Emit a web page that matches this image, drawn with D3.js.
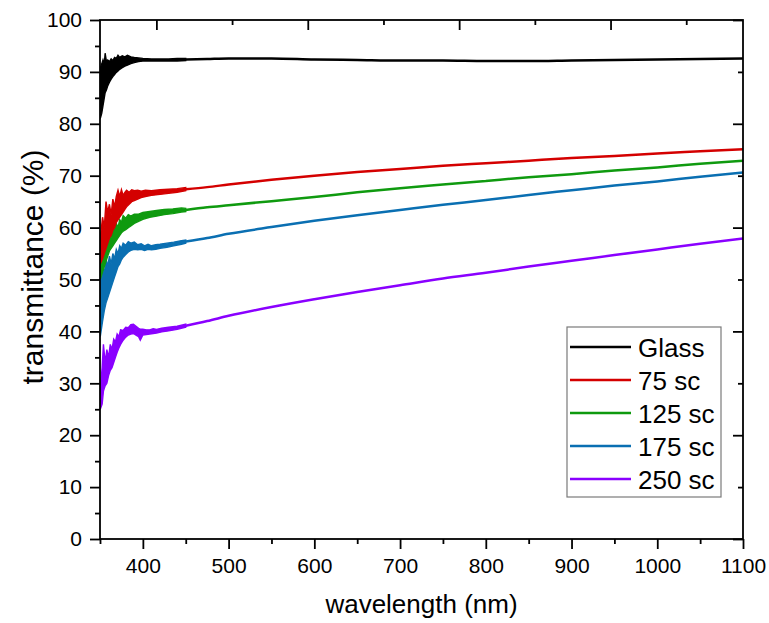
<!DOCTYPE html>
<html>
<head>
<meta charset="utf-8">
<script src="https://cdn.jsdelivr.net/npm/d3@7"></script>
<style>
  html, body { margin: 0; padding: 0; background: #fff; }
  svg { display: block; font-family: "Liberation Sans", Arial, sans-serif; }
</style>
</head>
<body>
<svg id="chart" width="769" height="623"></svg>
<script>
// Series names and colours
const seriesNames = ["Glass", "75 sc", "125 sc", "175 sc", "250 sc"];
const seriesColors = ["#000000", "#d40000", "#0f9a0f", "#0a6fb2", "#8a00ff"];

// Smooth part of each spectrum (nm, %)
const wavelengths = [450, 475, 500, 550, 600, 650, 700, 750, 800, 850, 900, 950, 1000, 1050, 1100];
const glass  = [92.4, 92.5, 92.6, 92.6, 92.4, 92.3, 92.2, 92.2, 92.1, 92.1, 92.2, 92.3, 92.4, 92.5, 92.6];
const sc75   = [67.4, 67.8, 68.3, 69.2, 70.0, 70.7, 71.3, 71.9, 72.4, 72.9, 73.4, 73.8, 74.3, 74.7, 75.1];
const sc125  = [63.4, 63.9, 64.3, 65.1, 65.9, 66.8, 67.6, 68.3, 69.0, 69.7, 70.3, 71.0, 71.6, 72.3, 72.9];
const sc175  = [57.3, 58.0, 58.8, 60.1, 61.3, 62.4, 63.4, 64.4, 65.3, 66.3, 67.2, 68.1, 68.9, 69.8, 70.6];
const sc250  = [41.1, 42.0, 43.0, 44.7, 46.2, 47.6, 48.9, 50.2, 51.3, 52.5, 53.6, 54.7, 55.8, 56.9, 57.9];

// Noisy UV region: [wavelength, lower envelope, upper envelope]
const glassNoise = [
  [350.3, 81.0, 90.8], [352, 82.0, 91.5], [353.5, 83.5, 92.3], [355, 85.0, 91.5], [356, 86.0, 93.6],
  [357.5, 86.5, 92.0], [359, 87.3, 92.3], [361, 88.0, 92.0], [363, 88.6, 92.5], [365, 89.1, 92.2],
  [367, 89.5, 92.8], [369, 89.9, 92.6], [371, 90.2, 93.2], [373, 90.5, 92.8], [376, 90.8, 93.1],
  [379, 91.1, 92.9], [382, 91.3, 93.2], [386, 91.6, 92.9], [390, 91.8, 92.8], [395, 92.0, 92.7],
  [400, 92.1, 92.6], [410, 92.1, 92.5], [420, 92.1, 92.5], [430, 92.1, 92.5], [440, 92.1, 92.6],
  [450, 92.2, 92.6]
];
const sc75Noise = [
  [350.3, 53.0, 58.0], [353, 54.0, 62.0], [355, 55.0, 60.0], [357, 56.0, 65.0], [359, 57.0, 63.0],
  [361, 58.0, 64.5], [363, 58.5, 62.5], [365, 59.5, 65.5], [367, 60.0, 64.0], [369, 61.0, 66.0],
  [371, 61.5, 67.2], [373, 62.0, 66.0], [375, 62.5, 67.3], [377, 63.0, 66.2], [379, 63.5, 66.8],
  [381, 64.0, 67.2], [384, 64.5, 66.8], [387, 65.0, 67.3], [390, 65.2, 67.1], [394, 65.5, 67.2],
  [398, 65.8, 67.0], [403, 66.0, 67.2], [410, 66.2, 67.1], [420, 66.4, 67.3], [430, 66.6, 67.4],
  [440, 66.8, 67.5], [450, 67.1, 67.7]
];
const sc125Noise = [
  [350.3, 50.0, 54.0], [353, 51.5, 56.0], [355, 52.5, 55.5], [357, 53.5, 57.5], [359, 54.5, 57.0],
  [361, 55.5, 58.5], [363, 56.0, 58.0], [365, 56.5, 60.0], [367, 57.0, 59.5], [369, 57.5, 60.8],
  [371, 58.0, 60.0], [373, 58.5, 61.5], [375, 59.0, 61.0], [377, 59.3, 62.3], [380, 59.6, 61.8],
  [383, 60.0, 62.5], [386, 60.3, 62.2], [390, 60.8, 62.6], [395, 61.2, 62.6], [400, 61.6, 62.9],
  [408, 62.0, 63.1], [416, 62.2, 63.3], [425, 62.5, 63.5], [435, 62.7, 63.6], [445, 63.0, 63.8],
  [450, 63.1, 63.7]
];
const sc175Noise = [
  [350.3, 39.0, 50.0], [353, 42.0, 53.0], [355, 44.0, 51.0], [357, 45.5, 54.0], [359, 46.5, 52.5],
  [361, 47.5, 54.5], [363, 48.5, 53.0], [365, 49.5, 55.0], [367, 50.5, 54.0], [369, 51.5, 55.8],
  [371, 52.5, 55.0], [373, 53.0, 56.5], [375, 53.8, 56.0], [377, 54.3, 57.0], [380, 54.8, 56.6],
  [383, 55.3, 57.3], [386, 55.6, 57.0], [390, 55.8, 57.2], [394, 55.7, 56.7], [398, 55.8, 56.9],
  [402, 55.6, 56.5], [406, 55.8, 56.8], [410, 55.7, 56.5], [415, 55.8, 56.7], [420, 56.0, 56.8],
  [428, 56.2, 57.0], [436, 56.5, 57.2], [445, 56.8, 57.5], [450, 57.0, 57.6]
];
const sc250Noise = [
  [350.3, 25.0, 29.0], [352.5, 26.0, 33.0], [354, 28.5, 37.5], [356, 29.5, 34.0], [358, 30.0, 36.5],
  [360, 31.5, 35.0], [362, 32.5, 37.5], [364, 33.0, 36.5], [366, 34.0, 38.5], [368, 35.0, 38.0],
  [370, 36.0, 39.5], [372, 36.8, 39.0], [374, 37.5, 40.3], [377, 38.3, 40.2], [380, 38.9, 40.8],
  [383, 39.3, 40.7], [386, 39.5, 41.3], [389, 39.6, 41.4], [392, 39.3, 41.0], [395, 39.0, 40.6],
  [397, 38.3, 40.4], [400, 39.3, 40.4], [404, 39.4, 40.3], [408, 39.5, 40.3], [412, 39.6, 40.5],
  [416, 39.7, 40.4], [422, 39.9, 40.6], [430, 40.1, 40.8], [440, 40.4, 41.0], [450, 40.8, 41.4]
];

// Axis ticks
const xTicks = [400, 500, 600, 700, 800, 900, 1000, 1100];
const xMinorTicks = [350, 450, 550, 650, 750, 850, 950, 1050];
const yTicks = [0, 10, 20, 30, 40, 50, 60, 70, 80, 90, 100];
const yMinorTicks = [5, 15, 25, 35, 45, 55, 65, 75, 85, 95];
const topTicks = [0, 1, 2, 3, 4, 5, 6, 7];
const topDomain = [-0.745, 7.75];
const rightTicks = [0, 10, 20, 30, 40, 50, 60, 70, 80, 90, 100];

const smoothSeries = [glass, sc75, sc125, sc175, sc250];
const noiseSeries = [glassNoise, sc75Noise, sc125Noise, sc175Noise, sc250Noise];

const svg = d3.select("#chart");
const plot = { left: 100, top: 20, right: 743, bottom: 539 };

const x = d3.scaleLinear().domain([350, 1100]).range([plot.left, plot.right]);
const y = d3.scaleLinear().domain([0, 100]).range([plot.bottom, plot.top]);
const xTop = d3.scaleLinear().domain(topDomain).range([plot.left, plot.right]);

svg.append("defs").append("clipPath").attr("id", "plotClip")
  .append("rect")
  .attr("x", plot.left).attr("y", plot.top)
  .attr("width", plot.right - plot.left).attr("height", plot.bottom - plot.top);

const dataLayer = svg.append("g").attr("clip-path", "url(#plotClip)");

const band = d3.area()
  .x(d => x(d[0]))
  .y0(d => y(d[1]))
  .y1(d => y(d[2]));

const line = d3.line()
  .x(d => x(d[0]))
  .y(d => y(d[1]))
  .curve(d3.curveMonotoneX);

// Draw in reverse so the glass spectrum sits on top, purple at the bottom
for (let i = seriesNames.length - 1; i >= 0; i--) {
  const color = seriesColors[i];
  dataLayer.append("path")
    .datum(noiseSeries[i])
    .attr("d", band)
    .attr("fill", color)
    .attr("stroke", color)
    .attr("stroke-width", 1.4)
    .attr("stroke-linejoin", "miter");
  dataLayer.append("path")
    .datum(wavelengths.map((w, k) => [w, smoothSeries[i][k]]))
    .attr("d", line)
    .attr("fill", "none")
    .attr("stroke", color)
    .attr("stroke-width", 2.5);
}

// Axes
const axisW = 1.8;
const fontTick = 21;

const axisBottomG = svg.append("g").attr("transform", `translate(0,${plot.bottom})`);
axisBottomG.call(d3.axisBottom(x).tickValues(xTicks).tickSize(10).tickPadding(9).tickFormat(d3.format("d")));
axisBottomG.append("g").call(d3.axisBottom(x).tickValues(xMinorTicks).tickSize(5).tickFormat(""));

const axisLeftG = svg.append("g").attr("transform", `translate(${plot.left},0)`);
axisLeftG.call(d3.axisLeft(y).tickValues(yTicks).tickSize(10).tickPadding(8).tickFormat(d3.format("d")));
axisLeftG.append("g").call(d3.axisLeft(y).tickValues(yMinorTicks).tickSize(5).tickFormat(""));

const axisTopG = svg.append("g").attr("transform", `translate(0,${plot.top})`);
axisTopG.call(d3.axisBottom(xTop).tickValues(topTicks.filter(t => t % 2 === 0)).tickSize(10).tickFormat(""));
axisTopG.append("g").call(d3.axisBottom(xTop).tickValues(topTicks.filter(t => t % 2 === 1)).tickSize(5).tickFormat(""));

const axisRightG = svg.append("g").attr("transform", `translate(${plot.right},0)`);
axisRightG.call(d3.axisLeft(y).tickValues(rightTicks.filter(t => t % 20 === 0)).tickSize(10).tickFormat(""));
axisRightG.append("g").call(d3.axisLeft(y).tickValues(rightTicks.filter(t => t % 20 !== 0)).tickSize(5).tickFormat(""));

svg.selectAll(".domain").remove();
svg.selectAll(".tick line").attr("stroke", "#000").attr("stroke-width", axisW);
svg.selectAll(".tick text").attr("font-size", fontTick).attr("fill", "#000")
  .attr("font-family", "'Liberation Sans', Arial, sans-serif");

// Frame
svg.append("rect")
  .attr("x", plot.left).attr("y", plot.top)
  .attr("width", plot.right - plot.left).attr("height", plot.bottom - plot.top)
  .attr("fill", "none").attr("stroke", "#000").attr("stroke-width", axisW);

// Axis titles
svg.append("text")
  .attr("x", (plot.left + plot.right) / 2).attr("y", 613)
  .attr("text-anchor", "middle").attr("font-size", 26)
  .text("wavelength (nm)");

svg.append("text")
  .attr("transform", `translate(43,267) rotate(-90)`)
  .attr("text-anchor", "middle").attr("font-size", 30)
  .text("transmittance (%)");

// Legend
const legend = svg.append("g").attr("transform", "translate(567,327)");
legend.append("rect")
  .attr("width", 154).attr("height", 170)
  .attr("fill", "#fff").attr("stroke", "#7a7a7a").attr("stroke-width", 1.2);
seriesNames.forEach((name, i) => {
  const cy = 20 + i * 33;
  legend.append("line")
    .attr("x1", 3).attr("x2", 64).attr("y1", cy).attr("y2", cy)
    .attr("stroke", seriesColors[i]).attr("stroke-width", 2.5);
  legend.append("text")
    .attr("x", 71).attr("y", cy + 9.5)
    .attr("font-size", 26)
    .text(name);
});
</script>
</body>
</html>
